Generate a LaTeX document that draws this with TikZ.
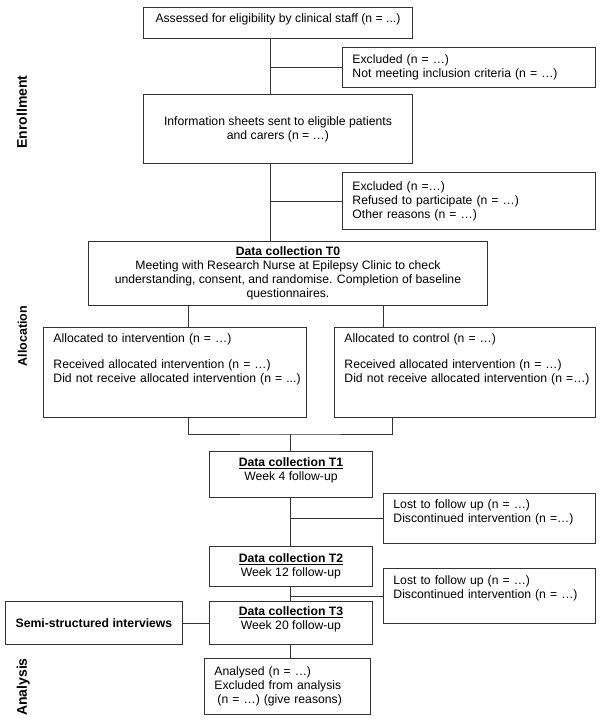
\documentclass[tikz,border=0pt]{standalone}
\usepackage{fontspec}
\setmainfont{Liberation Sans}
\begin{document}
\begin{tikzpicture}[x=1pt,y=-1pt,
  box/.style={draw=black!80, line width=0.9pt, rectangle, anchor=north west, inner xsep=10pt, inner ysep=0pt, font=\fontsize{12.2}{14}\selectfont},
  cbox/.style={box, align=center},
  lbox/.style={box, align=left},
  conn/.style={draw=black!80, line width=0.9pt},
  side/.style={rotate=90, anchor=base, font=\bfseries\fontsize{14}{16}\selectfont}]
\useasboundingbox (0,0) rectangle (600,722);

\node[cbox, minimum width=269pt, minimum height=31pt] (b1) at (143,7) {Assessed for eligibility by clinical staff (n = ...)\\[-8pt]\strut};
\node[lbox, minimum width=253pt, minimum height=40pt, text width=233pt] (x1) at (342,47) {Excluded (n = …)\\Not meeting inclusion criteria (n = …)};
\node[cbox, minimum width=269pt, minimum height=69pt] (b2) at (143,94) {Information sheets sent to eligible patients\\and carers (n = …)};
\node[lbox, minimum width=253pt, minimum height=57pt, text width=233pt] (x2) at (342,172) {Excluded (n =…)\\Refused to participate (n = …)\\Other reasons (n = …)};
\node[cbox, minimum width=399pt, minimum height=64pt] (t0) at (88,241) {\underline{\textbf{Data collection T0}}\\Meeting with Research Nurse at Epilepsy Clinic to check\\understanding, consent, and randomise. Completion of baseline\\questionnaires.};
\node[lbox, minimum width=263pt, minimum height=90pt, text width=243pt] (al) at (43,327) {\mbox{Allocated to intervention (n = …)}\\[12pt]\mbox{Received allocated intervention (n = …)}\\\mbox{Did not receive allocated intervention (n = ...)}\\[10pt]\strut};
\node[lbox, minimum width=261pt, minimum height=90pt, text width=241pt] (ar) at (334,327) {\mbox{Allocated to control (n = …)}\\[12pt]\mbox{Received allocated intervention (n = …)}\\\mbox{Did not receive allocated intervention (n =…)}\\[10pt]\strut};
\node[cbox, minimum width=163pt, minimum height=46pt] (t1) at (209,451) {\underline{\textbf{Data collection T1}}\\Week 4 follow-up\\[-7pt]\strut};
\node[lbox, minimum width=212pt, minimum height=50pt, text width=192pt] (x3) at (383,493) {Lost to follow up (n = …)\\Discontinued intervention (n =…)\\[-3pt]\strut};
\node[cbox, minimum width=163pt, minimum height=40pt] (t2) at (209,546) {\underline{\textbf{Data collection T2}}\\Week 12 follow-up};
\node[lbox, minimum width=212pt, minimum height=55pt, text width=192pt] (x4) at (383,568) {Lost to follow up (n = …)\\Discontinued intervention (n = …)\\\strut};
\node[cbox, minimum width=163pt, minimum height=43pt] (t3) at (209,601) {\underline{\textbf{Data collection T3}}\\Week 20 follow-up\\[-9pt]\strut};
\node[cbox, minimum width=177pt, minimum height=43pt, font=\bfseries\fontsize{12.2}{14}\selectfont] (se) at (5,601) {Semi-structured interviews};
\node[lbox, minimum width=166pt, minimum height=56pt, text width=146pt] (an) at (204,658) {Analysed (n = …)\\Excluded from analysis\\\hspace*{3pt}(n = …) (give reasons)};

\node[side] (en) at (27,112) {Enrollment};
\node[side, font=\bfseries\fontsize{12.5}{15}\selectfont] (alc) at (27,336) {Allocation};
\node[side] (ana) at (27,687) {Analysis};

\coordinate (tr) at (270,0);
\coordinate (ca) at (188,0);
\coordinate (cb) at (383,0);
\coordinate (cc) at (392,0);
\coordinate (jn) at (290,434);

\draw[conn] (b1.south -| tr) -- (b2.north -| tr);
\draw[conn] (x1.west) -- (x1.west -| tr);
\draw[conn] (b2.south -| tr) -- (t0.north -| tr);
\draw[conn] (x2.west) -- (x2.west -| tr);
\draw[conn] (t0.south -| ca) -- (al.north -| ca);
\draw[conn] (t0.south -| cb) -- (ar.north -| cb);
\draw[conn] (al.south -| ca) |- (jn) -| (ar.south -| cc);
\draw[conn] (jn) -- (t1.north -| jn);
\draw[conn] (t1.south -| jn) -- (t2.north -| jn);
\draw[conn] (x3.west) -- (x3.west -| jn);
\draw[conn] (t2.south -| jn) -- (t3.north -| jn);
\draw[conn] (x4.west) -- (x4.west -| jn);
\draw[conn] (se.east) -- (t3.west);
\draw[conn] (t3.south -| jn) -- (an.north -| jn);
\end{tikzpicture}
\end{document}
